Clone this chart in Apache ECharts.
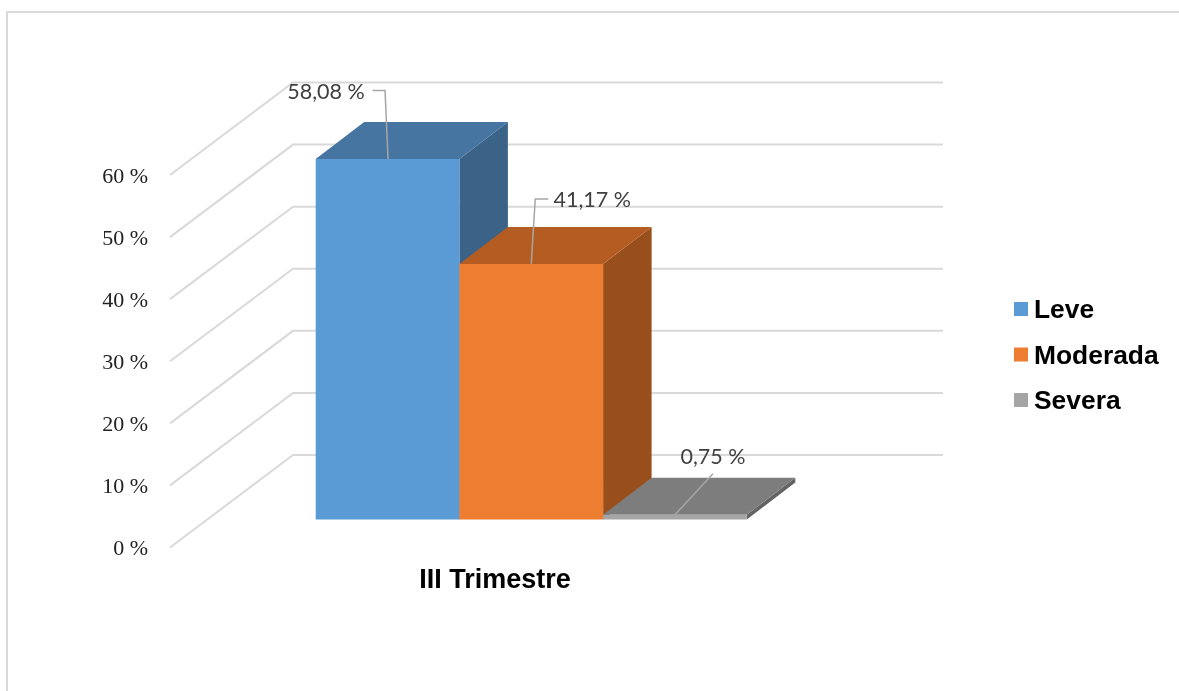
<!DOCTYPE html>
<html><head><meta charset="utf-8">
<style>html,body{margin:0;padding:0;background:#fff}#c{width:1179px;height:691px}</style>
<script src="https://cdn.jsdelivr.net/npm/echarts@6/dist/echarts.min.js"></script>
</head><body><div id="c"></div>
<script>
var categories = ['III Trimestre'];
var seriesNames = ['Leve', 'Moderada', 'Severa'];
var leve = [58.08];
var moderada = [41.17];
var severa = [0.75];
var valueTicks = [0, 10, 20, 30, 40, 50, 60];

var frontColors = ['#5B9BD5', '#ED7D31', '#A5A5A5'];
var topColors = ['#4675A1', '#B45C22', '#7D7D7D'];
var sideColors = ['#3A6387', '#984F1B', '#636363'];
var BAR_W = 143.7, BAR_LEFT = -179.3, PLANE_Y = -30, DX = 48.5, DY = -37;
var WALL_Y0 = -2, WALL_DX = 123, WALL_DY = -92.5, WALL_END = 943;
// leader polylines and label centres, relative to the middle of each bar's top front edge
var leaders = [
  {pts: [[0.5, 0], [-2.5, -68.5], [-15, -68.5]], text: [-61.5, -66.5]},
  {pts: [[0, 0], [4, -65], [17, -65]], text: [61, -63.5]},
  {pts: [[0, 0], [38, -41]], text: [38, -57.5]}
];
function fmt(v) { return v.toFixed(2).replace('.', ',') + ' %'; }

function renderWall(params, api) {
  var y = api.coord([0, api.value(1)])[1] + WALL_Y0;
  var x = params.coordSys.x;
  return {
    type: 'polyline',
    shape: {points: [[x, y], [x + WALL_DX, y + WALL_DY], [WALL_END, y + WALL_DY]]},
    style: {stroke: '#D9D9D9', lineWidth: 2, fill: null}
  };
}
function renderBar(idx) {
  return function (params, api) {
    var v = api.value(1);
    var c = api.coord([0, v]);
    var b = api.coord([0, 0]);
    var x0 = c[0] + BAR_LEFT + idx * BAR_W, x1 = x0 + BAR_W;
    var yT = c[1] + PLANE_Y, yB = b[1] + PLANE_Y;
    var L = leaders[idx], cx = (x0 + x1) / 2;
    return {type: 'group', children: [
      {type: 'polygon', shape: {points: [[x1, yT], [x1 + DX, yT + DY], [x1 + DX, yB + DY], [x1, yB]]}, style: {fill: sideColors[idx]}},
      {type: 'polygon', shape: {points: [[x0, yT], [x0 + DX, yT + DY], [x1 + DX, yT + DY], [x1, yT]]}, style: {fill: topColors[idx]}},
      {type: 'rect', shape: {x: x0, y: yT, width: BAR_W, height: yB - yT}, style: {fill: frontColors[idx]}},
      {type: 'polyline', shape: {points: L.pts.map(function (p) { return [cx + p[0], yT + p[1]]; })}, style: {stroke: '#A6A6A6', lineWidth: 1.5, fill: null}},
      {type: 'text', style: {text: fmt(v), x: cx + L.text[0], y: yT + L.text[1], align: 'center', verticalAlign: 'middle', fill: '#404040', font: '21.5px Lato'}}
    ]};
  };
}
function barSeries(idx, values) {
  return {
    type: 'custom', name: seriesNames[idx], z: 3 + idx,
    itemStyle: {color: frontColors[idx]},
    encode: {x: 0, y: 1},
    data: values.map(function (v, i) { return [i, v]; }),
    renderItem: renderBar(idx)
  };
}

var chart = echarts.init(document.getElementById('c'), null, {renderer: 'canvas'});
chart.setOption({
  animation: false,
  backgroundColor: '#fff',
  graphic: [{type: 'polyline', silent: true, shape: {points: [[7, 691], [7, 12], [1179, 12]]}, style: {stroke: '#D9D9D9', lineWidth: 2, fill: null}}],
  grid: {left: 170, top: 177, width: 650, height: 372.5},
  xAxis: {type: 'category', data: categories, axisLine: {show: false}, axisTick: {show: false}, splitLine: {show: false},
    axisLabel: {margin: 17.5, color: '#000', fontFamily: 'Liberation Sans', fontWeight: 'bold', fontSize: 27}},
  yAxis: {type: 'value', min: 0, max: 60, interval: 10, axisLine: {show: false}, axisTick: {show: false}, splitLine: {show: false},
    axisLabel: {margin: 22, color: '#222', fontFamily: 'Liberation Serif', fontSize: 22, formatter: '{value} %'}},
  legend: {orient: 'vertical', left: 1009, top: 293, itemWidth: 14, itemHeight: 14, itemGap: 19.5, icon: 'rect', selectedMode: false,
    data: seriesNames,
    formatter: '{a|{name}}',
    textStyle: {color: '#000', fontFamily: 'Liberation Sans', fontWeight: 'bold', fontSize: 26.4,
      rich: {a: {color: '#000', fontFamily: 'Liberation Sans', fontWeight: 'bold', fontSize: 26.4, padding: [4, 0, 0, 1]}}}},
  series: [
    {type: 'custom', z: 1, silent: true, encode: {x: 0, y: 1}, data: valueTicks.map(function (t) { return [0, t]; }), renderItem: renderWall},
    barSeries(0, leve), barSeries(1, moderada), barSeries(2, severa)
  ]
});
</script></body></html>
